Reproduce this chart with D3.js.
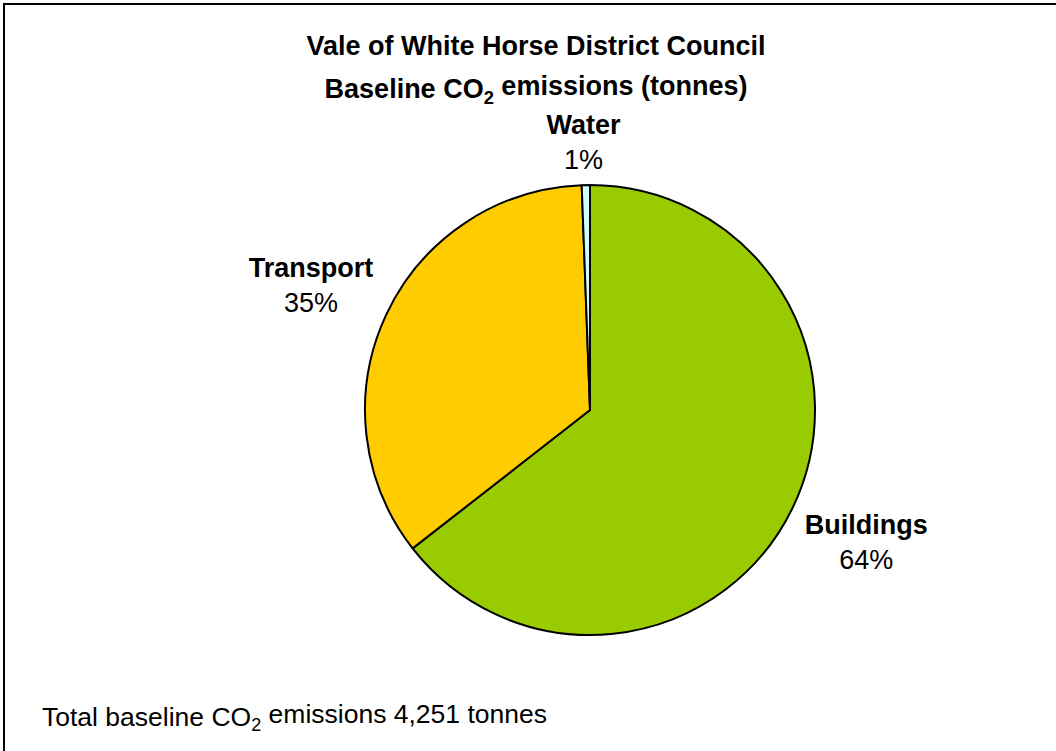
<html>
<head>
<meta charset="utf-8">
<title>Baseline CO2 emissions</title>
<script src="https://d3js.org/d3.v7.min.js"></script>
<style>
  body { margin: 0; background: #fff; }
  text { font-family: "Liberation Sans", Arial, sans-serif; fill: #000; }
</style>
</head>
<body>
<svg width="1056" height="751"></svg>
<script>
// data
var categories = ["Buildings", "Transport", "Water"];
var values = [2740, 1486, 25];          // tonnes, total 4,251
var colors = ["#99cc00", "#ffcc00", "#ccffff"];
var titleLines = ["Vale of White Horse District Council", "Baseline CO|2| emissions (tonnes)"];
var footer = "Total baseline CO|2| emissions 4,251 tonnes";

var svg = d3.select("svg");

// frame
svg.append("rect")
  .attr("x", 4).attr("y", 4)
  .attr("width", 1070).attr("height", 770)
  .attr("fill", "#fff").attr("stroke", "#000").attr("stroke-width", 2);

// writes text with "|..|" parts as subscripts
function richText(sel, str) {
  str.split("|").forEach(function (part, i) {
    var t = sel.append("tspan").text(part);
    if (i % 2 == 1) t.attr("font-size", "0.68em").attr("dy", "0.3em");
    else if (i > 0) t.attr("dy", "-0.3em");
  });
}

var title = svg.append("g").attr("font-weight", "bold").attr("font-size", 27).attr("text-anchor", "middle");
titleLines.forEach(function (s, i) {
  richText(title.append("text").attr("x", 536).attr("y", 55 + i * 43), s);
});

var cx = 590, cy = 410, r = 225;
var total = d3.sum(values);
var pct = d3.format(".0%");

var pie = d3.pie().sort(null).value(d => d.value);
var arc = d3.arc().innerRadius(0).outerRadius(r);
var data = pie(categories.map((c, i) => ({ name: c, value: values[i], color: colors[i] })));

var g = svg.append("g").attr("transform", `translate(${cx},${cy})`);
g.selectAll("path")
  .data(data)
  .enter()
  .append("path")
  .attr("d", arc)
  .attr("fill", d => d.data.color)
  .attr("stroke", "#000")
  .attr("stroke-width", 2)
  .attr("stroke-linejoin", "round");

// labels outside the pie, box pushed off the rim
var labels = g.selectAll("g.lab")
  .data(data)
  .enter()
  .append("g")
  .attr("class", "lab")
  .attr("text-anchor", "middle")
  .attr("font-size", 27);
labels.append("text")
  .attr("class", "name")
  .attr("font-weight", "bold")
  .attr("y", -7)
  .text(d => d.data.name);
labels.append("text")
  .attr("y", 28)
  .text(d => pct(d.data.value / total));
labels.attr("transform", function (d) {
  var a = (d.startAngle + d.endAngle) / 2;
  var s = Math.sin(a), c = -Math.cos(a);
  var hw = d3.select(this).select("text.name").node().getComputedTextLength() / 2;
  var R = r + 14, hh = 30;
  var x = s * R + hw * Math.max(-1, Math.min(1, s * 3));
  var y = c * R + hh * Math.max(-1, Math.min(1, c * 2));
  return `translate(${x},${y})`;
});

richText(svg.append("text").attr("x", 42).attr("y", 726).attr("font-size", 26.5), footer);
</script>
</body>
</html>
